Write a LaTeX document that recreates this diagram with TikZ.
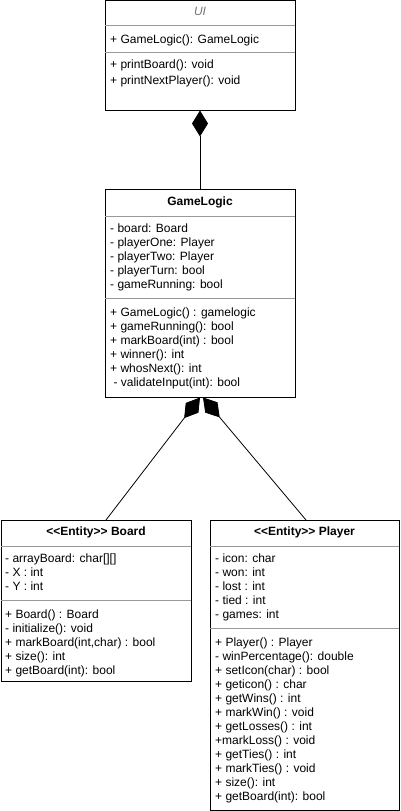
\documentclass[tikz,border=0pt]{standalone}
\usepackage{fontspec}
\setmainfont{Liberation Sans}[Ligatures=TeXOff]
\usetikzlibrary{arrows.meta}
\begin{document}
\begin{tikzpicture}[x=1pt,y=-1pt,
  box/.style={draw=black,line width=1pt,anchor=north west,inner sep=0pt,outer sep=0pt,rectangle},
  sep/.style={draw=black!40,line width=1pt},
  txt/.style={anchor=base west,inner sep=0pt,font=\fontsize{12}{14}\selectfont},
  ttl/.style={anchor=base,inner sep=0pt,font=\fontsize{12}{14}\selectfont\bfseries},
  conn/.style={draw=black,line width=0.8pt},
  comp/.style={-{Diamond[length=26pt,width=16pt]}}]
\useasboundingbox[fill=white] (0,0) rectangle (401,811);

% ---------- UI ----------
\node[box,minimum width=190pt,minimum height=110pt] (ui) at (105,0.5) {};
\node[anchor=base,inner sep=0pt,font=\fontsize{12}{14}\selectfont\itshape,text=black!55] (uit) at (200,16) {UI};
\draw[sep] (105,25) -- (295,25);
\draw[sep] (105,52) -- (295,52);
\node[txt] (uia) at (110,43) {+ GameLogic(): GameLogic};
\node[txt] (uim1) at (110,68) {+ printBoard(): void};
\node[txt] (uim2) at (110,84) {+ printNextPlayer(): void};

% ---------- GameLogic ----------
\node[box,minimum width=190pt,minimum height=208pt] (gl) at (105,189) {};
\node[ttl] (glt) at (200,205) {GameLogic};
\draw[sep] (105,216) -- (295,216);
\draw[sep] (105,298) -- (295,298);
\foreach \t [count=\i from 0] in {{- board: Board},{- playerOne: Player},{- playerTwo: Player},{- playerTurn: bool},{- gameRunning: bool}}
  \node[txt] (gla\i) at (110,232+14*\i) {\t};
\foreach \t [count=\i from 0] in {{+ GameLogic() : gamelogic},{+ gameRunning(): bool},{+ markBoard(int) : bool},{+ winner(): int},{+ whosNext(): int},{\ - validateInput(int): bool}}
  \node[txt] (glm\i) at (110,316+14*\i) {\t};

% ---------- Board ----------
\node[box,minimum width=190pt,minimum height=161pt] (board) at (1,520) {};
\node[ttl] (bt) at (96,535) {<<Entity>> Board};
\draw[sep] (1,546) -- (191,546);
\draw[sep] (1,600) -- (191,600);
\foreach \t [count=\i from 0] in {{- arrayBoard: char[][]},{- X : int},{- Y : int}}
  \node[txt] (ba\i) at (5,562+14*\i) {\t};
\foreach \t [count=\i from 0] in {{+ Board() : Board},{- initialize(): void},{+ markBoard(int,char) : bool},{+ size(): int},{+ getBoard(int): bool}}
  \node[txt] (bm\i) at (5,618+14*\i) {\t};

% ---------- Player ----------
\node[box,minimum width=189pt,minimum height=290pt] (player) at (210,520) {};
\node[ttl] (pt) at (304.5,535) {<<Entity>> Player};
\draw[sep] (210,546) -- (399,546);
\draw[sep] (210,628) -- (399,628);
\foreach \t [count=\i from 0] in {{- icon: char},{- won: int},{- lost : int},{- tied : int},{- games: int}}
  \node[txt] (pa\i) at (215,562+14*\i) {\t};
\foreach \t [count=\i from 0] in {{+ Player() : Player},{- winPercentage(): double},{+ setIcon(char) : bool},{+ geticon() : char},{+ getWins() : int},{+ markWin() : void},{+ getLosses() : int},{+markLoss() : void},{+ getTies() : int},{+ markTies() : void},{+ size(): int},{+ getBoard(int): bool}}
  \node[txt] (pm\i) at (215,646+14*\i) {\t};

% ---------- connectors ----------
\coordinate (glL) at (200,397.5);
\coordinate (glR) at (203,397.5);
\coordinate (bTop) at (106,520);
\coordinate (pTop) at (306,520);
\draw[conn,comp] (gl.north) -- (ui.south);
\draw[conn,comp] (bTop) -- (glL);
\draw[conn,comp] (pTop) -- (glR);
\end{tikzpicture}
\end{document}
